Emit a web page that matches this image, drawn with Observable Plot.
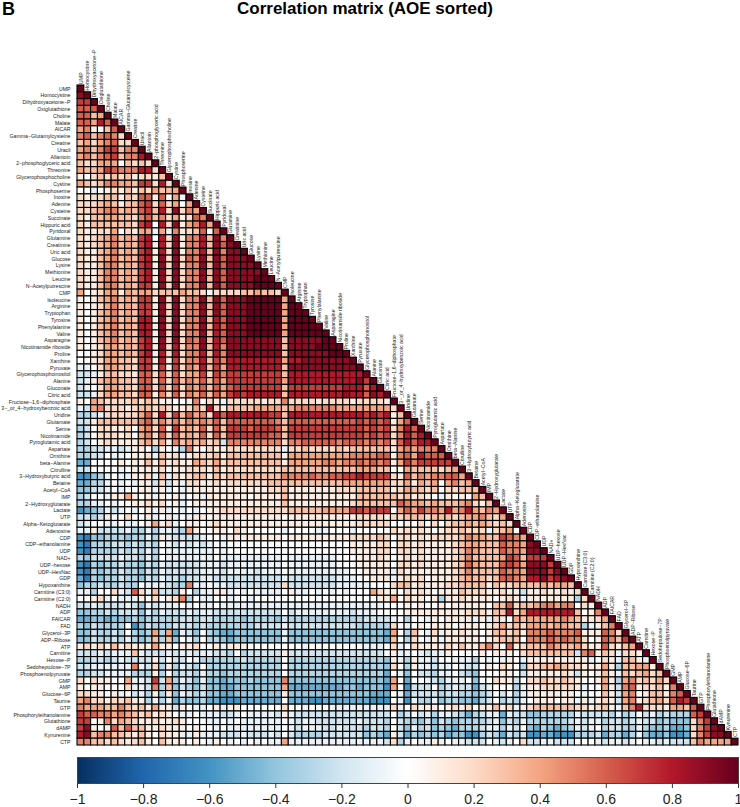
<!DOCTYPE html>
<html><head><meta charset="utf-8">
<script src="https://cdn.jsdelivr.net/npm/d3@7"></script>
<script src="https://cdn.jsdelivr.net/npm/@observablehq/plot@0.6"></script>
<style>
html,body{margin:0;padding:0;background:#fff;font-family:"Liberation Sans",Arial,sans-serif}
#wrap{position:relative;width:740px;height:807px;overflow:hidden}
#tag{position:absolute;left:2px;top:0;line-height:18px;font-size:18px;font-weight:bold;color:#000}
#title{position:absolute;left:0;width:730px;top:0;line-height:17px;text-align:center;font-size:17px;font-weight:bold;color:#000}
svg{display:block}
</style></head><body>
<div id="wrap"><div id="tag">B</div><div id="title">Correlation matrix (AOE sorted)</div><div id="a"></div><div id="b"></div></div>
<script>
const metabolites = ["UMP","Homocystine","Dihydroxyacetone−P","Oxiglutathione","Choline","Malate","AICAR","Gamma−Glutamylcysteine","Creatine","Uracil","Allantoin","2−phosphoglyceric acid","Threonine","Glycerophosphocholine","Cystine","Phosphoserine","Inosine","Adenine","Cysteine","Succinate","Hippuric acid","Pyridoxal","Glutamine","Creatinine","Uric acid","Glucose","Lysine","Methionine","Leucine","N−Acetylputrescine","CMP","Isoleucine","Arginine","Tryptophan","Tyrosine","Phenylalanine","Valine","Asparagine","Nicotinamide riboside","Proline","Xanthine","Pyruvate","Glycerophosphoinositol","Alanine","Gluconate","Citric acid","Fructose−1,6−diphosphate","3−_or_4−hydroxybenzoic acid","Uridine","Glutamate","Serine","Nicotinamide","Pyroglutamic acid","Aspartate","Ornithine","beta−Alanine","Citrulline","3−Hydroxybutyric acid","Betaine","Acetyl−CoA","IMP","2−Hydroxyglutarate","Lactate","UTP","Alpha−Ketoglutarate","Adenosine","CDP","CDP−ethanolamine","UDP","NAD+","UDP−hexose","UDP−HexNac","GDP","Hypoxanthine","Carnitine (C3:0)","Carnitine (C2:0)","NADH","ADP","FAICAR","FAD","Glycerol−3P","ADP−Ribose","ATP","Carnitine","Hexose−P","Sedoheptulose−7P","Phosphoenolpyruvate","GMP","AMP","Glucose−6P","Taurine","GTP","Phosphorylethanolamine","Glutathione","dAMP","Kynurenine","CTP"];
// Lower triangle, one string per row, read in tenths: digits 0-9 = 0..0.9, X = 1, a-g = -0.1..-0.7
const correlationRows = [
"X","9X","77X","666X","6634X","66486X","451036X","5635652X","34245622X","453577355X",
"4535673558 X","3224440323 2X","4334765558 82X","1023232312 213X","4323554437 7282X","00a0121313 24334X","2122331326 61604aX","2223431336 7262404X","2234553436 73829254X","2133443325 635241265X",
"2133333327 8082914584 X","2112240214 4a4a512360 6X","2123453437 8082915583 95X","2123453437 8182915583 969X","2113453437 8182915583 9599X","2113453437 8192926593 96999X","2113553437 8192925593 969999X","2113553437 8192925593 9699999X","2113553437 8192925593 969999XXX","2113553437 7192925593 969999XXXX",
"4012441434 4233343320 2222334332 X","1013453437 7192925593 96999XXXXX 4X","1012453437 7192925593 96999XXXXX 4XX","1013453437 7192925593 96999XXXXX 4XXX","1013453438 8192925593 86999XXXXX 4XXXX","1013453438 8192925593 86999XXXXX 4XXXXX","1013453438 8192925593 86999XXXXX 4XXXXXX","1013453437 8192926593 8699999999 399999XX","1012443437 8192825593 8599999999 39999XXXX","0012443437 8182825583 8599999999 3999999XXX",
"0012443327 7181725583 7588888888 4889999999 X","aa02443327 7171725483 7488888888 3999999999 9X","bba1332216 6262624472 7577777777 3888888888 88X","ba13443326 6262635463 6477777777 4888888888 897X","ba02443326 6262625463 6467777777 3777777778 8868X","bba2443326 6152625463 6478788888 3888888889 88698X","1043222232 3211001502 1a22222122 5222212222 122221X","ab45222123 3232112428 2133334444 3455555544 4444442X","ccba222224 6282736452 8688888877 3888888888 88787813X","bb13333335 6353535454 6366666665 3666666666 676767146X",
"cb02211204 5261734362 6377767776 3777777777 7767672586 X","cb02221204 5262634362 6377777766 3777777777 7767672586 8X","cb01211113 4241534342 3b55555555 2556666656 6656562686 88X","ccbbaaba11 0c10ac5102 1122222222 a223222232 3333331454 555X","ccbb0aa011 2a312a1222 3133333333 1444444444 5555661564 8666X","ee00001011 3131211432 4233333333 1444445545 5656561475 77777X","bb0000a011 1120112221 3122222222 3333333333 3444330043 333234X","ffdca0aa11 2a3a212331 3233333333 5555655667 7877772163 5455664X","eecca0a0a1 1b2b1a2211 2122222233 3333333334 4444442241 43404534X","ddbba0a001 1a1a0a1111 1111111122 3111111122 2333331243 323022333X",
"cb00a11410 1a101a01a1 1111101111 3111111111 1333333231 210a101043 X","ccaa0a0011 21201a0111 1111111111 3111111111 2333333654 4343334521 3X","fedcaba0a0 1a1a0a0a01 1222222222 2333334444 7767770464 7554845843 54X","bbcb100200 1a01a0a110 1111111111 0111111111 1222212233 3233323445 324X","ba00aa0aa0 1412a01101 2111111111 1111111111 1222220010 2020233434 3232X","aa1bbbbacc acaabc4100 1102100000 a0000aa000 a000002121 2101223222 a2340X","fgddcccdcc ac1abbbba0 0a11111111 0111111111 2222320221 2122223544 337654X","fgcccbbcbc bc0abababa 0a00000000 0000000000 1111220221 2111123443 3365549X","fgccccbcbc ac0aaaaaaa 0a00000000 0000000000 1111220221 2111123543 33655499X","cdbbbbabbc ac0aaaaaaa 0aaaaaaaaa 0aaaaaaa00 0111210121 2111123533 334763777X",
"fgcdccbccd bcabbbbbaa abaaaaaaaa 0aaaaaaa00 0111110221 2111123643 3367649997 X","fgcdccbccd bcabbbbbaa abaaaabaaa 0aaaaaaaaa 001111a211 1111123533 3365549997 9X","egcdccbccd bcabbcbbaa bbbbbbbbbb abbbbbbbaa a00111a121 2011123433 2366548897 89X","dccbccbcc0 aaabcc5aa0 aabbbbbbbb 2bbbbbbbaa aaa0002331 2111223333 1322333343 443X","aac002ab62 a3bbc10caa 11a0a0aaaa 01aa0a0a0a 0004211021 2101113222 1121 1b1121 1212X","0012a0aaa1 020125c0aa 00a00a0000 0000000000 0000114021 101c112111 10121a1111 111c2X","bbabbbbabd abaaa0a0aa 0aaaaaaaaa aaaaaaaaaa aaaaa00010 1001011111 0336233455 4550 21X","ddccbcbbbd acabbbabaa bbbbbbbbbb 0baaaaaaaa baaa000011 1111111222 1338248888 8883015X","eeddedddcd cccccbbcbb ccccdccccd bccccccccc ccbbbba0c0 0a101111a1 a210434444 45431124X","cdbcccc0fd bcccbbbcbc ccccccbbbb abbbbbbbbb bccccc20a0 1011101110 1242324443 4433ca135X",
"ddbccbc0cd c4c4eabd0c deeddddddd addddddddd ddddde40c3 0a2a112110 1332315556 5556111652X","ddbccbcacd c3c3d0ac0c cdeddddddd addddddddd ddddde30c2 0a1a111110 1233305556 5655201653 7X","1212131211 1411011200 1a11100000 000a000000 00aaa02a02 1111213113 5206123335 4334211621 34X","bbbabaaa3a bbbabaabaa bbc0cbbbbb 1bbbbbbbbb bbbbb01aa0 abaa100001 0111023333 333b56132a 221X","ccbbcbabbb b1b0bb0acc ccccbccccc 0ccccccccc cccccd1ac1 aab00aaac0 a0a10a1111 11111a021a 331aX","bbaaaaaa5a b2c1cabc0c cccccccccc 0ccccccccc cccccd20c1 aabaa0abb0 10210c2233 432211141c 33441X","ccbbaaaacc c1c0cbbcac cdcccccccc 0ccccccccc ccccce0ad0 bbcaa0bcd0 00110b1111 121b10131a 323423X","2021100 4aa b7b4cabdad dedddcdddd 5ddddddddd ddddde40e0 0abcaaa0d0 0211b02232 232100141c 45232 42X","10110002aa b5c3dbcdbd deeddddddd 4eeeeeeeed dedddf40fb bb0cbabbeb a000ca1122 2221a0041b 56122315X","221101a0ba c1c1dabcbd deeddddddd 1ddddddddd dddeee0aeb bbbcbbccdc b0b0ca1111 1110a0031b 4501331 56X",
"4522122311 cacaecddce efffeeeeee 0eeeffeeee eeefff0afa ccadccddec b0cbca0111 011a1a121b 4512342687 X","5444335323 1411b10aa0 1a11000000 200a000aaa aaaaaa2a02 1110121201 1312a12333 333221231a 3582221443 6X","7665545432 31210aa0aa abba0aaaab 1abbbbbbbb bbbbbb0cb0 bacaabcecb aaeabbddcc cccabbbbca cb0bacbccc 67X","7701524321 1211210 00a a0a0aaaaaa 0abaabbbbb babbbc0bcc dbdbcdcccc badbcacccc ccbabaacbb cbabbdcddd 257X","7910163633 1121110100 a0aaaaaaaa 0abaaabbab bbcbbc0bda cbdcdecccb aacab0decd edcaba0cbb ccacddceed 2579X","8935533213 1021 1aa1aa abbbabbbab 0bccccbbbb bbdcde1bec dcdceddffc bcebcbffee fffcccbecc ecadeedffe 25799X",
"5533232123 1031110 10a 10a0a0a0aa 4aaaaaaaaa aaaaab2ca0 aa1a0aabbb 0aba02bbaa bbb000abaa ba0aababbb 354444X"
].map(s=>s.replace(/ /g,""));
const colorStops = [-1,-.8,-.6,-.4,-.2,0,.2,.4,.6,.8,1];
const colorHex = ["#053061","#2166AC","#4393C3","#92C5DE","#D1E5F0","#FFFFFF","#FDDBC7","#F4A582","#D6604D","#B2182B","#67001F"];
const barTicks = [-1,-.8,-.6,-.4,-.2,0,.2,.4,.6,.8,1];
const decode = ch => ch==="X" ? 1 : /[a-g]/.test(ch) ? -(ch.charCodeAt(0)-96)/10 : +ch/10;
const cells = [];
correlationRows.forEach((s,i)=>{ [...s].forEach((ch,j)=>{ cells.push({row:metabolites[i],col:metabolites[j],r:decode(ch)}); }); });
const colorScale = {type:"linear",domain:colorStops,range:colorHex,clamp:true};
const main = Plot.plot({
  width:740,height:752,marginLeft:77,marginRight:2,marginTop:85,marginBottom:7,
  style:{background:"transparent",fontFamily:"Liberation Sans, Arial, sans-serif",overflow:"visible"},
  x:{domain:metabolites,axis:null,padding:0},
  y:{domain:metabolites,padding:0,label:null},
  color:colorScale,
  marks:[
    Plot.cell(cells,{x:"col",y:"row",fill:"r",stroke:"#000",strokeWidth:1.1}),
    Plot.axisY({tickSize:0,tickPadding:7,fontSize:5.2,label:null,fill:"#222"}),
    Plot.text(metabolites,{x:d=>d,y:d=>d,text:d=>d,rotate:-90,textAnchor:"start",dy:-5,fontSize:5.2,fill:"#222"})
  ]
});
document.getElementById("a").append(main);
const steps = d3.range(-1,1,0.005);
const bar = Plot.plot({
  width:740,height:55,marginLeft:77,marginRight:2,marginTop:5,marginBottom:24,
  style:{background:"transparent",fontFamily:"Liberation Sans, Arial, sans-serif",overflow:"visible"},
  x:{domain:[-1,1],label:null},y:{axis:null},
  color:colorScale,
  marks:[
    Plot.rectX(steps,{x1:d=>d,x2:d=>Math.min(1,d+0.012),fill:d=>d+0.0025}),
    Plot.frame({stroke:"#444",strokeWidth:1}),
    Plot.axisX({ticks:barTicks,tickSize:5,tickPadding:6,fontSize:14,label:null,stroke:"#333",fill:"#222",tickFormat:d=>d===0?"0":String(d).replace("-","−")})
  ]
});
document.getElementById("b").append(bar);
</script>
</body></html>
